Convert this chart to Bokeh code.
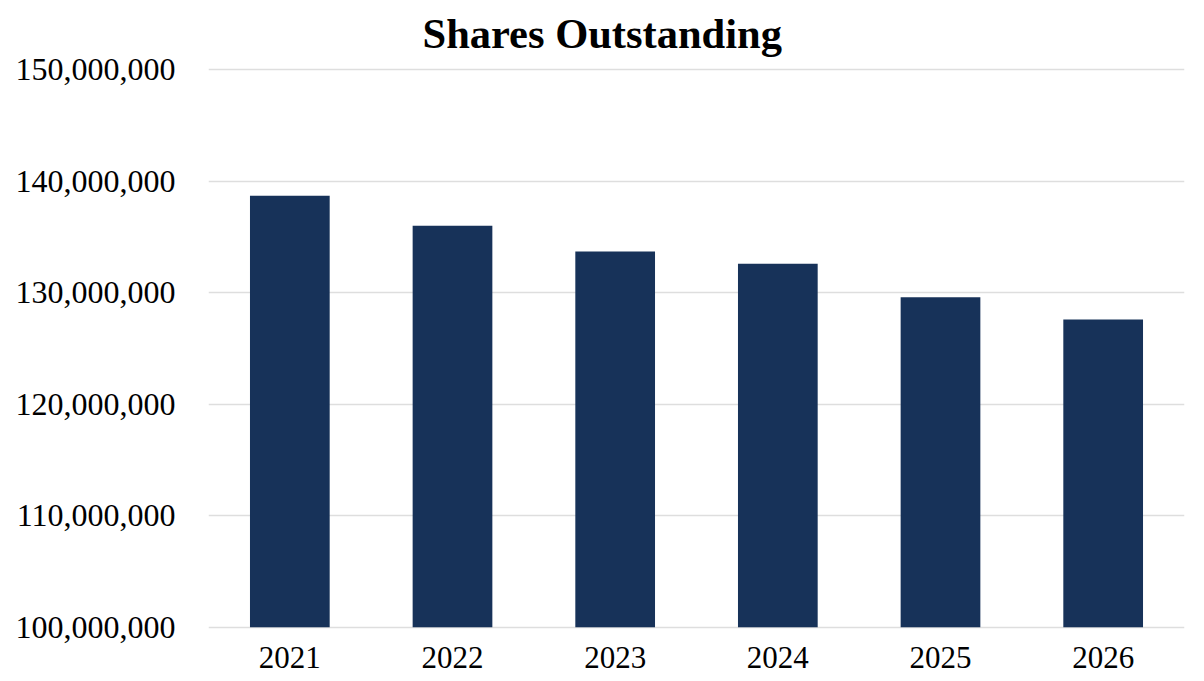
from bokeh.plotting import figure
from bokeh.models import ColumnDataSource, Range1d, NumeralTickFormatter, FixedTicker
from bokeh.embed import file_html
from bokeh.resources import INLINE

years = ["2021", "2022", "2023", "2024", "2025", "2026"]
shares = [138700000, 136000000, 133700000, 132600000, 129600000, 127600000]
y_ticks = [100000000, 110000000, 120000000, 130000000, 140000000, 150000000]
title_text = "Shares Outstanding"

FONT = "Liberation Serif"

src = ColumnDataSource(data=dict(year=years, shares=shares))

p = figure(
    x_range=years,
    y_range=Range1d(99800000, 150200000),
    width=1188, height=673,
    output_backend="svg", toolbar_location=None,
    title=title_text,
    min_border_left=208, min_border_right=4, min_border_top=0, min_border_bottom=44,
)

p.vbar(x="year", top="shares", bottom=100000000, width=0.49, source=src,
       fill_color="#173259", line_color="#173259", line_width=0)

p.title.text_font = FONT
p.title.text_font_size = "42.5px"
p.title.text_font_style = "bold"
p.title.align = "left"
p.title.vertical_align = "top"
p.title.text_color = "black"
p.title.offset = 214
p.title.standoff = 18

p.outline_line_color = None
p.background_fill_color = "white"
p.border_fill_color = "white"

p.xgrid.grid_line_color = None
p.ygrid.grid_line_color = "#dedede"
p.ygrid.grid_line_width = 1.5
p.ygrid.ticker = FixedTicker(ticks=y_ticks)

p.yaxis.ticker = FixedTicker(ticks=y_ticks)
p.yaxis.formatter = NumeralTickFormatter(format="0,0")
p.yaxis.axis_line_color = None
p.yaxis.major_tick_line_color = None
p.yaxis.minor_tick_line_color = None
p.yaxis.major_label_text_font = FONT
p.yaxis.major_label_text_font_size = "32px"
p.yaxis.major_label_text_color = "black"
p.yaxis.major_label_standoff = 27

p.xaxis.axis_line_color = None
p.xaxis.major_tick_line_color = None
p.xaxis.minor_tick_line_color = None
p.xaxis.major_label_text_font = FONT
p.xaxis.major_label_text_font_size = "31px"
p.xaxis.major_label_text_color = "black"
p.xaxis.major_label_standoff = 11

open("out.html", "w").write(file_html(p, INLINE))
